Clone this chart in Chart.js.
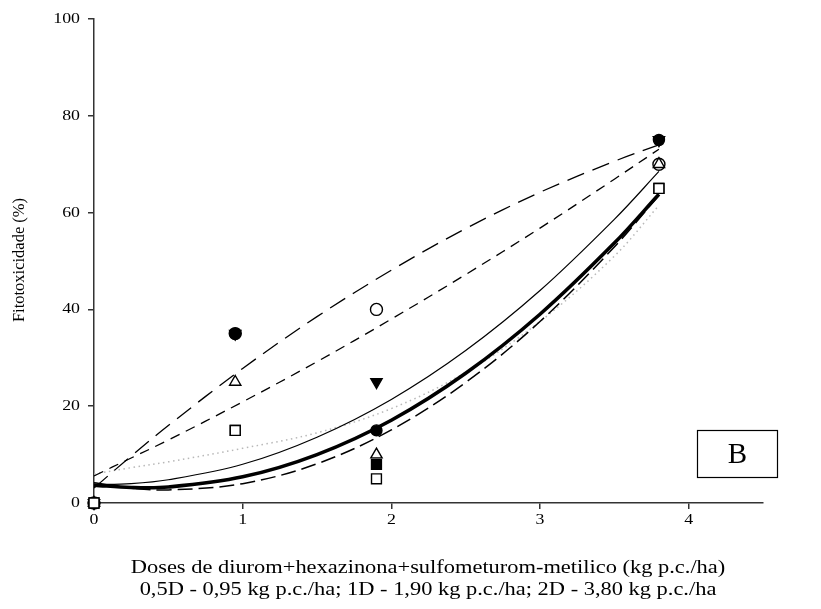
<!DOCTYPE html>
<html>
<head>
<meta charset="utf-8">
<script src="https://cdn.jsdelivr.net/npm/chart.js@4.4.1/dist/chart.umd.min.js"></script>
<style>
  html, body { margin: 0; padding: 0; background: #fff; }
  #grafico { display: block; }
</style>
</head>
<body>
<canvas id="grafico" width="821" height="609"></canvas>
<script>
// Doses (kg p.c./ha) e fitotoxicidade observada por tratamento
const doses = [0, 0.95, 1.90, 3.80];
const fitoCirculoCheio = [0, 35, 15, 75];
const fitoCirculoAberto = [0, 35, 40, 70];
const fitoTrianguloCheio = [0, 35, 25, 75];
const fitoTrianguloAberto = [0, 25, 10, 70];
const fitoQuadradoCheio = [0, 15, 8, 65];
const fitoQuadradoAberto = [0, 15, 5, 65];

// Curvas de regressao, lidas em alguns pontos de dose
const dosesCurva = [0, 0.25, 0.5, 1, 1.5, 2, 2.5, 3, 3.5, 3.8];
const curvaCirculoAberto = [3.1, 9.7, 16.0, 27.8, 38.5, 48.1, 56.7, 64.2, 70.6, 74.0];
const curvaTrianguloCheio = [5.6, 9.3, 13.0, 20.9, 29.2, 38.0, 47.2, 56.8, 66.9, 73.1];
const curvaTrianguloAberto = [3.8, 4.0, 4.8, 8.0, 13.6, 21.4, 31.5, 43.9, 58.6, 68.5];
const curvaQuadradoCheio = [3.7, 3.2, 3.3, 5.4, 10.0, 17.1, 26.8, 39.0, 53.7, 63.8];
const curvaQuadradoAberto = [4.2, 3.1, 2.7, 4.0, 8.1, 15.1, 24.9, 37.5, 52.9, 63.6];
const curvaCirculoCheio = [6.0, 7.3, 8.5, 11.3, 14.5, 19.5, 27.0, 37.5, 51.0, 61.5];

// Rotulos
const tituloY = "Fitotoxicidade (%)";
const tituloX = [
  "Doses de diurom+hexazinona+sulfometurom-metilico (kg p.c./ha)",
  "0,5D - 0,95 kg p.c./ha; 1D - 1,90 kg p.c./ha; 2D - 3,80 kg p.c./ha"
];
const letraPainel = "B";

const FONTE = "'Liberation Serif', 'Times New Roman', serif";
const ESTICA = 1.15; // textos horizontais um pouco mais largos

function pares(xs, ys) {
  return xs.map((x, i) => ({ x: x, y: ys[i] }));
}

function curva(ys, estilo) {
  return Object.assign({
    type: "line",
    data: pares(dosesCurva, ys),
    borderColor: "#000",
    borderWidth: 1.3,
    pointRadius: 0,
    fill: false,
    tension: 0.35,
    order: 2
  }, estilo);
}

function pontos(ys, estilo) {
  return Object.assign({
    type: "scatter",
    data: pares(doses, ys),
    borderColor: "#000",
    borderWidth: 1.4,
    pointRadius: 5.5,
    clip: false,
    order: 1
  }, estilo);
}

// escreve texto, opcionalmente alargado na horizontal
function texto(ctx, str, x, y, alinhamento, tamanho, estica, angulo) {
  ctx.save();
  ctx.translate(x, y);
  ctx.scale(estica, 1);
  if (angulo) ctx.rotate(angulo);
  ctx.font = tamanho + "px " + FONTE;
  ctx.fillStyle = "#000";
  ctx.textAlign = alinhamento;
  ctx.textBaseline = "middle";
  ctx.fillText(str, 0, 0);
  ctx.restore();
}

// Rotulos dos eixos, titulos e caixa com a letra do painel
const textos = {
  id: "textos",
  afterDraw(chart) {
    const ctx = chart.ctx;
    const sx = chart.scales.x;
    const sy = chart.scales.y;

    sx.ticks.forEach(t => {
      texto(ctx, String(t.value), sx.getPixelForValue(t.value), 520, "center", 15.5, ESTICA);
    });
    sy.ticks.forEach(t => {
      texto(ctx, String(t.value), 80, sy.getPixelForValue(t.value), "right", 15.5, ESTICA);
    });

    texto(ctx, tituloY, 20, 260, "center", 16.5, 1, -Math.PI / 2);
    texto(ctx, tituloX[0], 428, 568, "center", 19.5, ESTICA);
    texto(ctx, tituloX[1], 428, 590, "center", 19.5, ESTICA);

    ctx.save();
    ctx.strokeStyle = "#000";
    ctx.lineWidth = 1.2;
    ctx.strokeRect(697.5, 430.5, 80, 47);
    ctx.restore();
    texto(ctx, letraPainel, 737.5, 455, "center", 29, 1);
  }
};

new Chart(document.getElementById("grafico").getContext("2d"), {
  data: {
    datasets: [
      pontos(fitoQuadradoAberto, { pointStyle: "rect", pointRadius: 7, backgroundColor: "#fff" }),
      pontos(fitoTrianguloAberto, { pointStyle: "triangle", pointRadius: 6.5, backgroundColor: "#fff" }),
      pontos(fitoTrianguloCheio, { pointStyle: "triangle", pointRotation: 180, pointRadius: 6.5, backgroundColor: "#000" }),
      pontos(fitoCirculoCheio, { pointStyle: "circle", backgroundColor: "#000" }),
      pontos(fitoQuadradoCheio, { pointStyle: "rect", pointRadius: 7, backgroundColor: "#000" }),
      pontos(fitoCirculoAberto, { pointStyle: "circle", pointRadius: 6, backgroundColor: "#fff" }),
      curva(curvaQuadradoCheio, { borderWidth: 3.6 }),
      curva(curvaQuadradoAberto, { borderWidth: 1.5, borderDash: [15, 6] }),
      curva(curvaTrianguloAberto, { borderWidth: 1.2 }),
      curva(curvaTrianguloCheio, { borderDash: [10, 7] }),
      curva(curvaCirculoAberto, { borderDash: [18, 9] }),
      curva(curvaCirculoCheio, { borderColor: "#b8b8b8", borderWidth: 1.5, borderDash: [1.5, 3.5] })
    ]
  },
  options: {
    responsive: false,
    animation: false,
    events: [],
    layout: { padding: { top: 19, right: 58, bottom: 0, left: 0 } },
    plugins: {
      legend: { display: false },
      tooltip: { enabled: false }
    },
    scales: {
      x: {
        type: "linear",
        position: "bottom",
        min: 0,
        max: 4.5,
        afterFit(scale) { scale.height = 106; },
        ticks: { stepSize: 1, includeBounds: false, color: "rgba(0,0,0,0)", font: { size: 14 } },
        grid: { drawOnChartArea: false, drawTicks: true, tickLength: 6, color: "#333", lineWidth: 1.5 },
        border: { display: true, color: "#333", width: 1.5 }
      },
      y: {
        type: "linear",
        position: "left",
        min: 0,
        max: 100,
        afterFit(scale) { scale.width = 94; },
        ticks: { stepSize: 20, color: "rgba(0,0,0,0)", font: { size: 14 } },
        grid: { drawOnChartArea: false, drawTicks: true, tickLength: 6, color: "#333", lineWidth: 1.5 },
        border: { display: true, color: "#333", width: 1.5 }
      }
    }
  },
  plugins: [textos]
});
</script>
</body>
</html>
